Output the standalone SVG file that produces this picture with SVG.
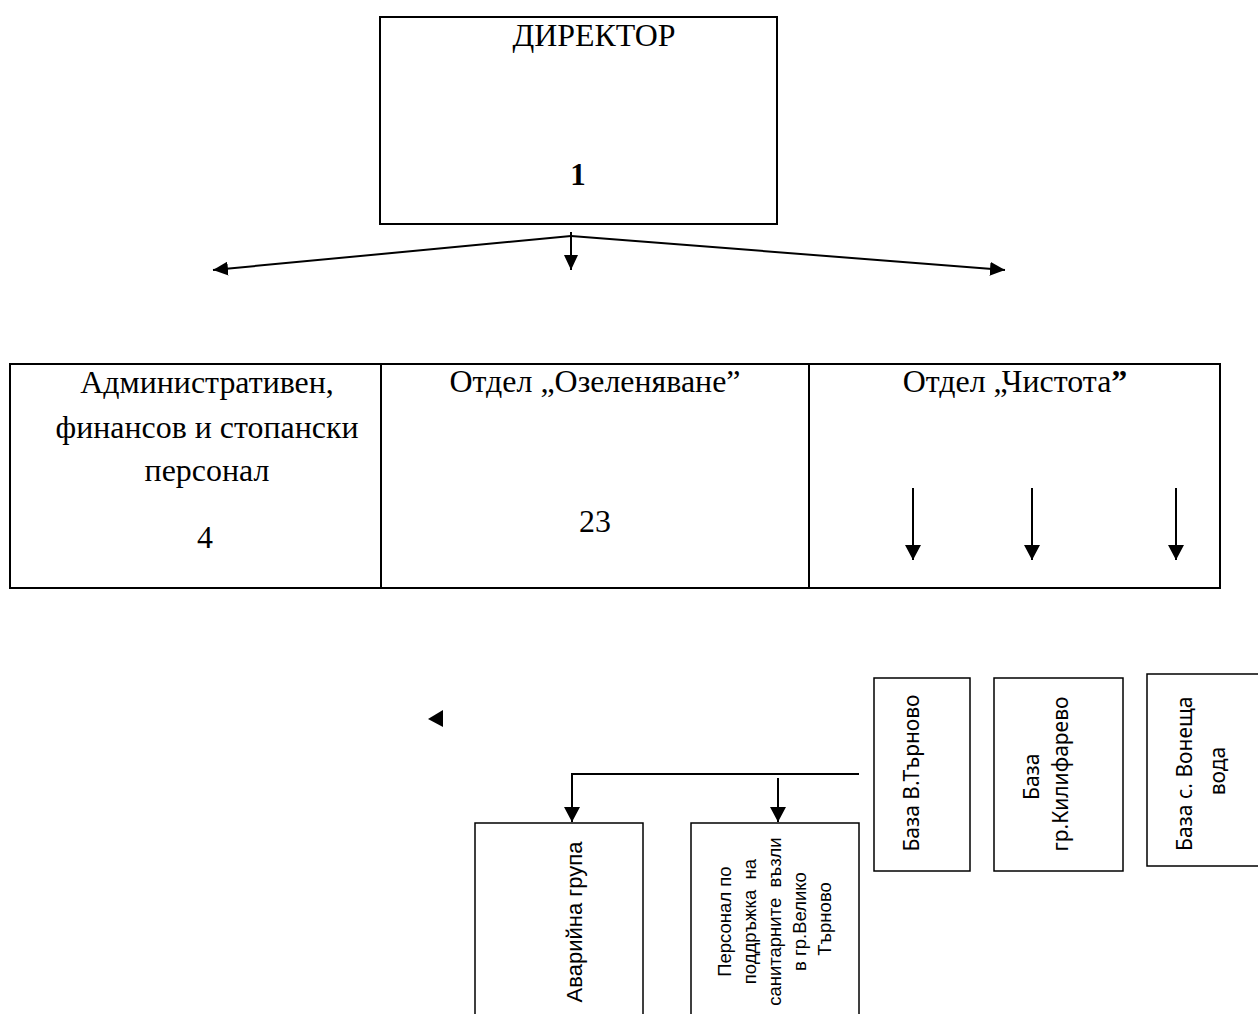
<svg xmlns="http://www.w3.org/2000/svg" width="1258" height="1014" viewBox="0 0 1258 1014">
<defs>
<style>
.box{fill:#fff;stroke:#000;stroke-width:2}
.sbox{fill:#fff;stroke:#000;stroke-width:1.5}
.ser{font-family:"Liberation Serif","Times New Roman",serif;font-size:31px;fill:#000;text-anchor:middle}
.san{font-family:"Liberation Sans",Arial,sans-serif;fill:#000;text-anchor:middle}
.noto{font-family:"Noto Sans","Liberation Sans",sans-serif;fill:#000;text-anchor:middle;font-size:21px}
.ln{stroke:#000;stroke-width:2;fill:none}
</style>
<marker id="ah" markerUnits="userSpaceOnUse" markerWidth="16" markerHeight="14" refX="15" refY="7" orient="auto">
<path d="M0,0 L15,7 L0,14 z" fill="#000"/>
</marker>
<marker id="ah2" markerUnits="userSpaceOnUse" markerWidth="16" markerHeight="17" refX="15" refY="8" orient="auto">
<path d="M0,0 L15,8 L0,16 z" fill="#000"/>
</marker>
</defs>
<rect width="1258" height="1014" fill="#fff"/>

<g id="director">
<rect class="box" x="380" y="17" width="397" height="207"/>
<text class="ser" transform="translate(594,46) scale(1.03,1)">ДИРЕКТОР</text>
<text class="ser" transform="translate(578,185)" font-size="32" font-weight="bold">1</text>
</g>

<g id="table">
<rect class="box" x="10" y="364" width="1210" height="224"/>
<line class="ln" x1="381" y1="364" x2="381" y2="588"/>
<line class="ln" x1="809" y1="364" x2="809" y2="588"/>
</g>

<g id="admin">
<text class="ser" transform="translate(207,393) scale(1.03,1)">Административен,</text>
<text class="ser" transform="translate(207,438) scale(1.03,1)">финансов и стопански</text>
<text class="ser" transform="translate(207,481) scale(1.03,1)">персонал</text>
<text class="ser" transform="translate(205,548) scale(1.03,1)">4</text>
</g>

<g id="ozelenyavane">
<text class="ser" transform="translate(595,392) scale(1.03,1)">Отдел „Озеленяване”</text>
<text class="ser" transform="translate(595,532) scale(1.03,1)">23</text>
</g>

<g id="chistota">
<text class="ser" transform="translate(1015,392) scale(1.03,1)">Отдел „Чистота<tspan font-weight="bold">”</tspan></text>
</g>

<g id="avariyna">
<rect class="sbox" x="475" y="823" width="168" height="200"/>
<text class="san" font-size="22" transform="translate(582,922) rotate(-90)">Аварийна група</text>
</g>

<g id="personal">
<rect class="sbox" x="691" y="823" width="168" height="200"/>
<text class="san" font-size="18.5" transform="translate(731,919) rotate(-90)">
<tspan x="0" y="0">Персонал по</tspan>
<tspan x="0" y="25" xml:space="preserve">поддръжка  на</tspan>
<tspan x="0" y="50" xml:space="preserve">санитарните  възли</tspan>
<tspan x="0" y="75">в гр.Велико</tspan>
<tspan x="0" y="100">Търново</tspan>
</text>
</g>

<g id="baza-vt">
<rect class="sbox" x="874" y="678" width="96" height="193"/>
<text class="noto" transform="translate(919,773) rotate(-90)">База В.Търново</text>
</g>

<g id="baza-kil">
<rect class="sbox" x="994" y="678" width="129" height="193"/>
<text class="noto" transform="translate(1039,774) rotate(-90)">
<tspan x="0" y="0">База</tspan>
<tspan x="0" y="29">гр.Килифарево</tspan>
</text>
</g>

<g id="baza-von">
<rect class="sbox" x="1147" y="674" width="120" height="192"/>
<text class="noto" transform="translate(1192,771) rotate(-90)">
<tspan x="0" y="0">База с. Вонеща</tspan>
<tspan x="0" y="33">вода</tspan>
</text>
</g>

<g id="connectors">
<line class="ln" x1="571" y1="236" x2="213" y2="270" marker-end="url(#ah)"/>
<line class="ln" x1="571" y1="236" x2="1005" y2="270" marker-end="url(#ah)"/>
<line class="ln" x1="571" y1="232" x2="571" y2="270" marker-end="url(#ah)"/>
<line class="ln" x1="913" y1="488" x2="913" y2="560" marker-end="url(#ah2)"/>
<line class="ln" x1="1032" y1="488" x2="1032" y2="560" marker-end="url(#ah2)"/>
<line class="ln" x1="1176" y1="488" x2="1176" y2="560" marker-end="url(#ah2)"/>
<polyline class="ln" points="859,774 572,774 572,822" marker-end="url(#ah2)"/>
<line class="ln" x1="778" y1="778" x2="778" y2="822" marker-end="url(#ah2)"/>
<path d="M428,719 L443,710 L443,727 z" fill="#000"/>
</g>
</svg>
